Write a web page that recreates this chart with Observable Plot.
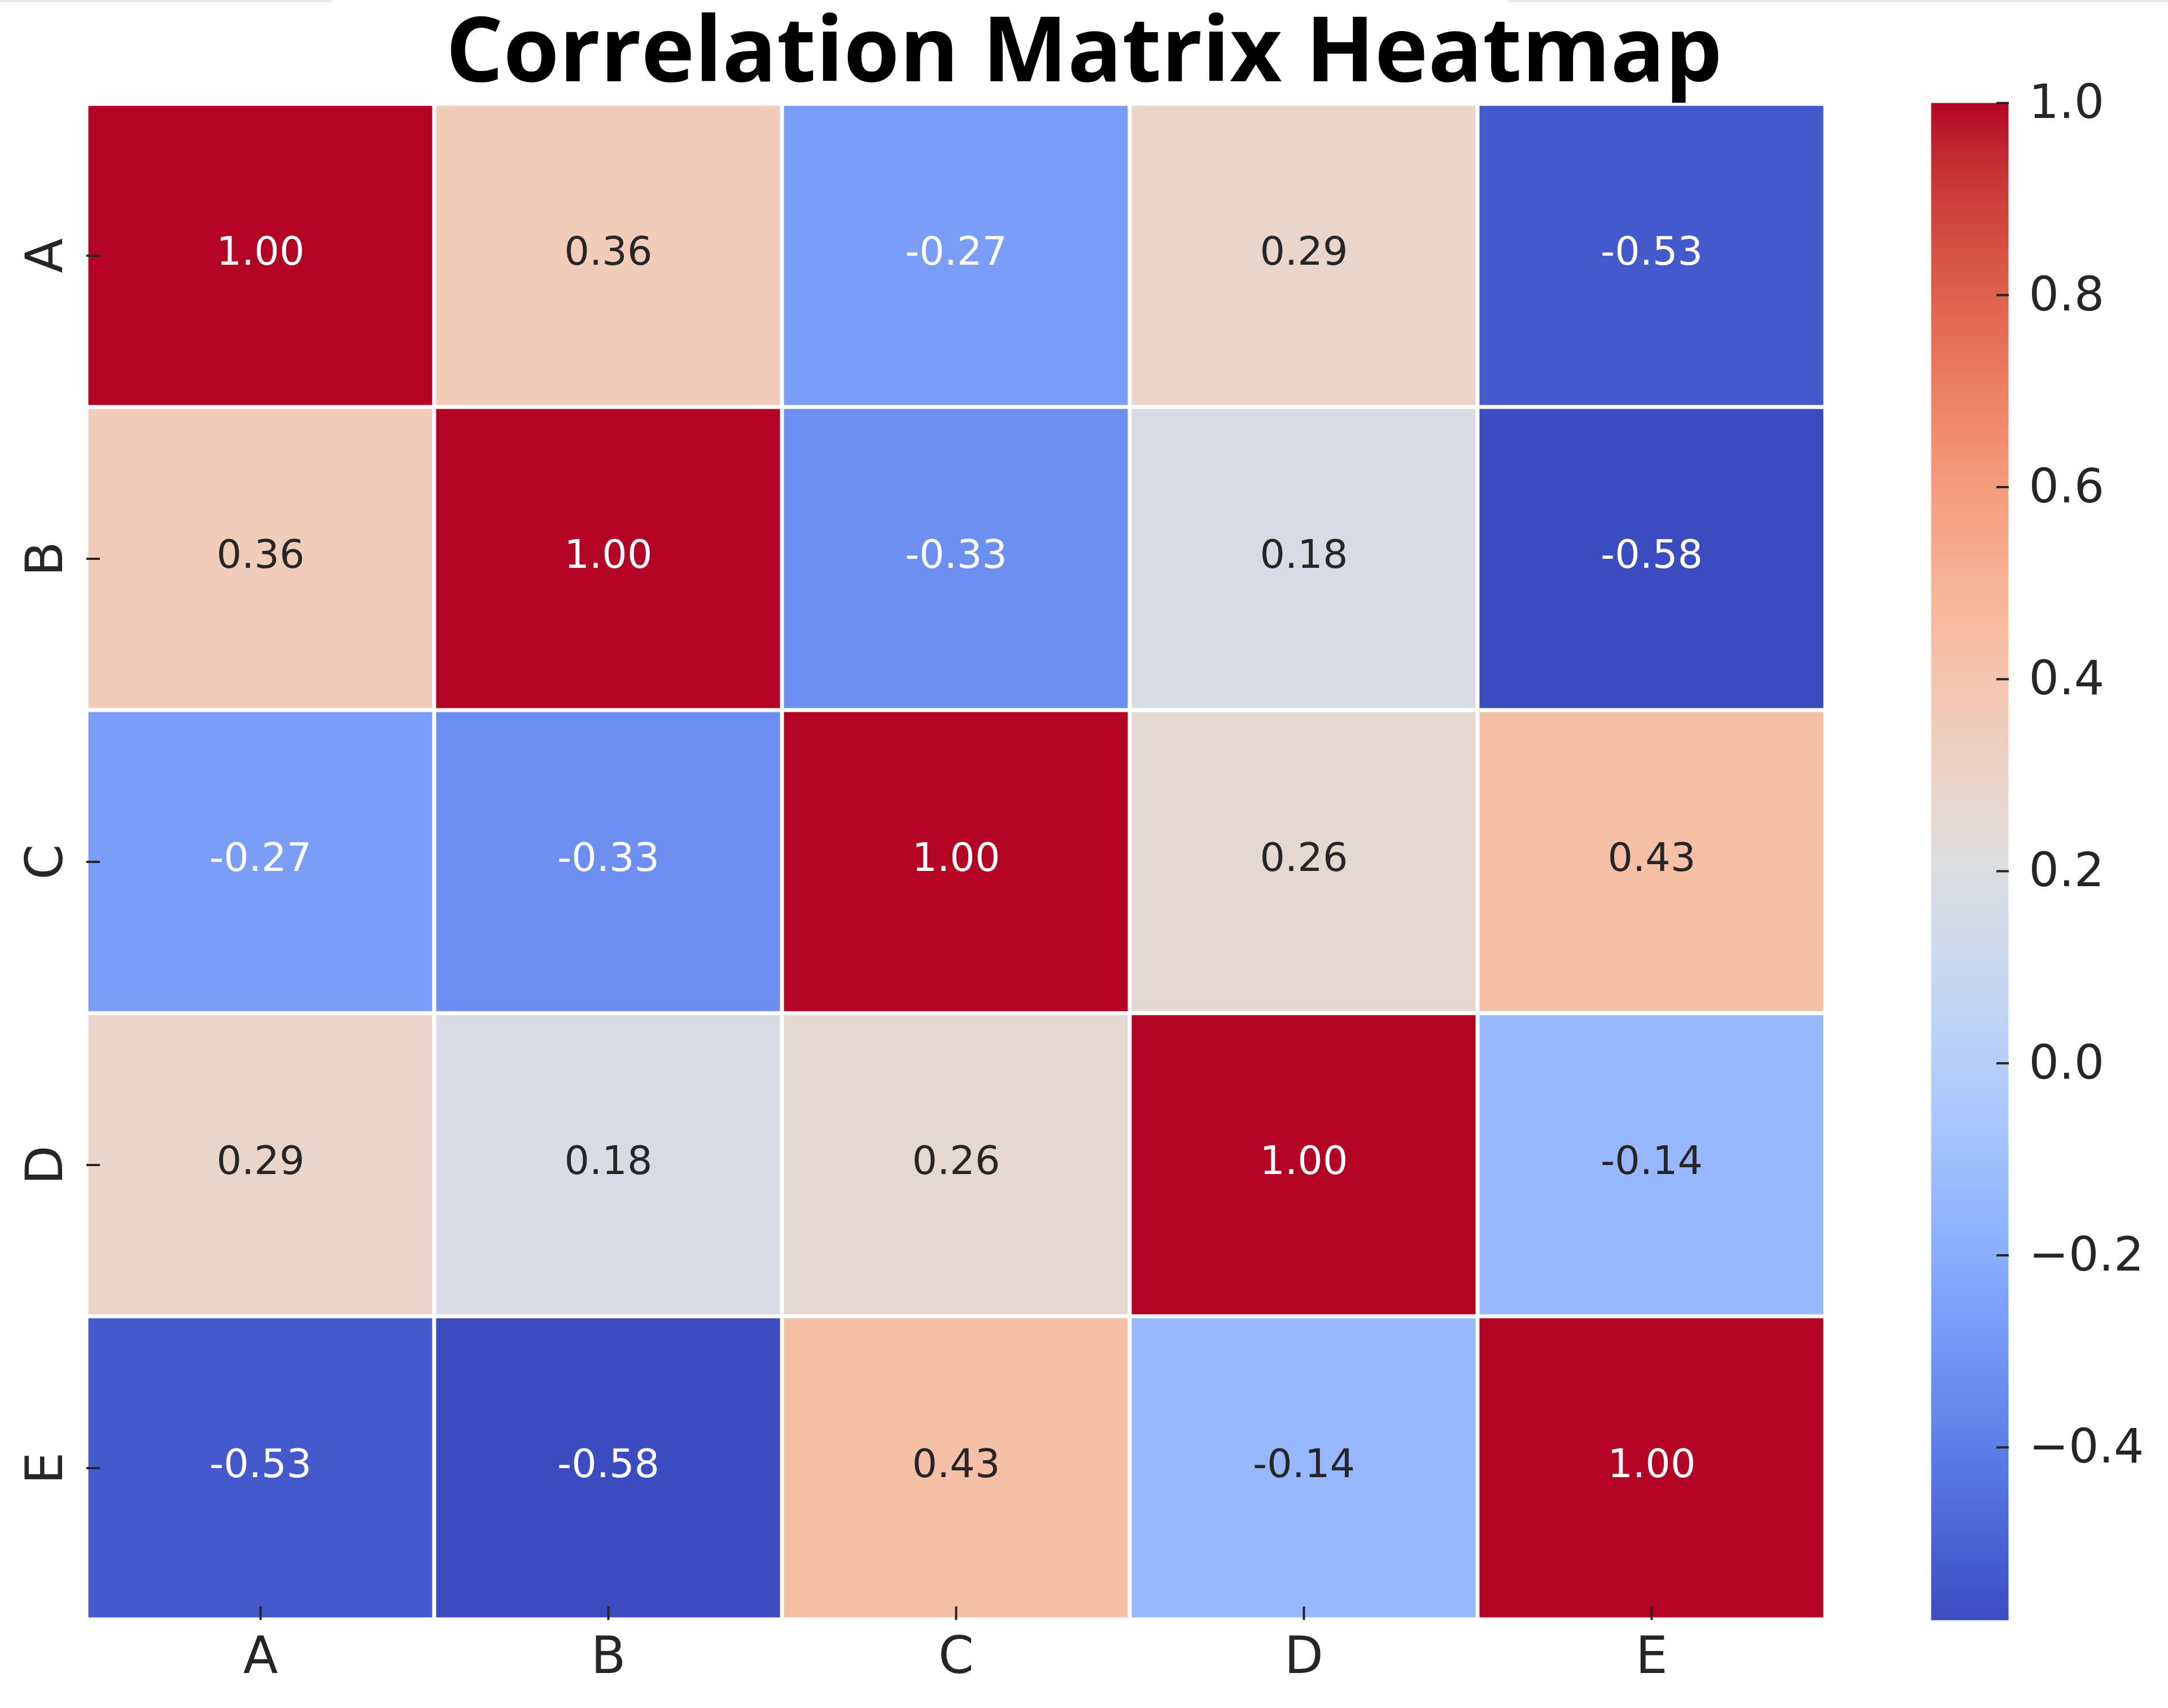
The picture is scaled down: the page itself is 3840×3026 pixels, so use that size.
<!DOCTYPE html>
<html>
<head>
<meta charset="utf-8">
<script src="https://cdn.jsdelivr.net/npm/d3@7"></script>
<script src="https://cdn.jsdelivr.net/npm/@observablehq/plot@0.6"></script>
<style>
  html, body { margin: 0; padding: 0; background: #fff; }
  #root { position: relative; width: 3840px; height: 3026px; overflow: hidden; background: #fff; }
  #title { position: absolute; left: 0; top: 2px; width: 3840px; text-align: center;
           font-family: "Open Sans", sans-serif; font-weight: 700; font-size: 160px; line-height: 1; color: #000; }
  .strip { position: absolute; top: 0; height: 4px; background: #e8e8e8; }
  #heat { position: absolute; left: 0; top: 0; }
  #cbar { position: absolute; left: 3300px; top: 0; }
</style>
</head>
<body>
<div id="root">
  <div class="strip" style="left:0;width:588px"></div>
  <div class="strip" style="left:2670px;width:1170px"></div>
  <div id="heat"></div>
  <div id="cbar"></div>
  <div id="title">Correlation Matrix Heatmap</div>
</div>
<script>
// ---- data ----
const variables = ["A", "B", "C", "D", "E"];
const rowA = [1.00, 0.36, -0.27, 0.29, -0.53];
const rowB = [0.36, 1.00, -0.33, 0.18, -0.58];
const rowC = [-0.27, -0.33, 1.00, 0.26, 0.43];
const rowD = [0.29, 0.18, 0.26, 1.00, -0.14];
const rowE = [-0.53, -0.58, 0.43, -0.14, 1.00];
const colorbarTicks = [-0.4, -0.2, 0.0, 0.2, 0.4, 0.6, 0.8, 1.0];
const colorMin = -0.58, colorMax = 1.0;

// ---- build table ----
const rows = [rowA, rowB, rowC, rowD, rowE];
const cells = [];
rows.forEach((r, i) => r.forEach((v, j) => cells.push({row: variables[i], col: variables[j], value: v})));

// ---- coolwarm colormap (Moreland) ----
const coolwarmStops = [
  [59,76,192],[68,90,204],[77,104,215],[87,117,225],[98,130,234],[108,142,241],[119,154,247],[130,165,251],
  [141,176,254],[152,185,255],[163,194,255],[174,201,253],[184,208,249],[194,213,244],[204,217,238],[213,219,230],
  [221,221,221],[229,216,209],[236,211,197],[241,204,185],[245,196,173],[247,187,160],[247,177,148],[247,166,135],
  [244,154,123],[241,141,111],[236,127,99],[229,112,88],[222,96,77],[213,80,66],[203,62,56],[192,40,47],[180,4,38]
].map(([r,g,b]) => `rgb(${r},${g},${b})`);
const coolwarm = d3.piecewise(d3.interpolateRgb, coolwarmStops);
const colorScale = {type: "linear", domain: [colorMin, colorMax], interpolate: coolwarm};

function luminance(v) {
  const c = d3.rgb(coolwarm((v - colorMin) / (colorMax - colorMin)));
  const lin = x => { x /= 255; return x <= 0.03928 ? x / 12.92 : Math.pow((x + 0.055) / 1.055, 2.4); };
  return 0.2126 * lin(c.r) + 0.7152 * lin(c.g) + 0.0722 * lin(c.b);
}
const isLight = d => luminance(d.value) > 0.408;

const tickColor = "#262626";
const font = "DejaVu Sans";

const heat = Plot.plot({
  width: 3300, height: 3026,
  marginLeft: 153, marginRight: 67, marginTop: 182, marginBottom: 156,
  style: {fontFamily: font, background: "transparent", color: tickColor, overflow: "visible"},
  x: {domain: variables, padding: 0, label: null},
  y: {domain: variables, padding: 0, label: null},
  color: colorScale,
  marks: [
    Plot.cell(cells, {x: "col", y: "row", fill: "value", inset: 3.5}),
    Plot.text(cells, {filter: d => !isLight(d), x: "col", y: "row", dy: -6, text: d => d.value.toFixed(2), fill: "#ffffff", fontSize: 70}),
    Plot.text(cells, {filter: d => isLight(d), x: "col", y: "row", dy: -6, text: d => d.value.toFixed(2), fill: "#262626", fontSize: 70}),
    Plot.axisX({tickSize: -24, strokeWidth: 4, tickFormat: () => "", label: null}),
    Plot.axisX({tickSize: 0, tickPadding: 30, fontSize: 90, label: null}),
    Plot.axisY({tickSize: -24, strokeWidth: 4, tickFormat: () => "", label: null}),
    Plot.axisY({tickSize: 0, tickPadding: 44, tickRotate: -90, fontSize: 90, label: null})
  ]
});
document.getElementById("heat").appendChild(heat);

const cbar = Plot.plot({
  width: 540, height: 3026,
  marginLeft: 120, marginRight: 283, marginTop: 182, marginBottom: 156,
  style: {fontFamily: font, background: "transparent", color: tickColor, overflow: "visible"},
  x: {domain: [0, 1], axis: null},
  y: {domain: [colorMin, colorMax], label: null},
  color: colorScale,
  marks: [
    Plot.raster({fill: (x, y) => y, x1: 0, x2: 1, y1: colorMin, y2: colorMax}),
    Plot.axisY(colorbarTicks, {anchor: "right", tickSize: -22, strokeWidth: 4, tickFormat: () => "", label: null}),
    Plot.axisY(colorbarTicks, {anchor: "right", tickSize: 0, tickPadding: 36, fontSize: 84, tickFormat: d3.format(".1f"), label: null})
  ]
});
document.getElementById("cbar").appendChild(cbar);
</script>
</body>
</html>
